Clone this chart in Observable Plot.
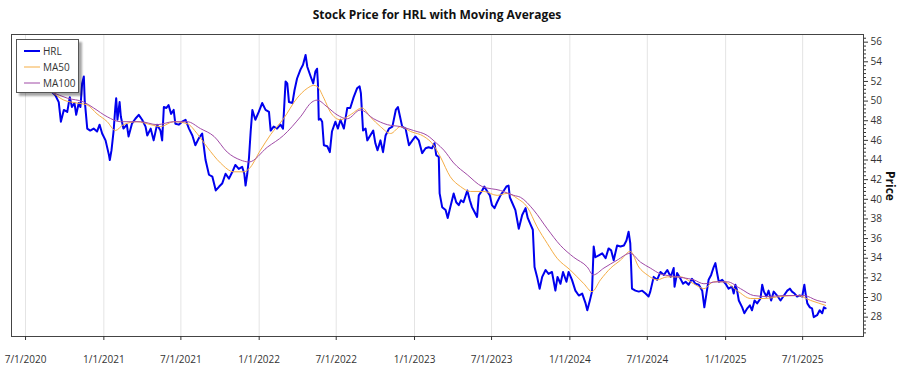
<!DOCTYPE html>
<html>
<head>
<meta charset="utf-8">
<script src="https://cdn.jsdelivr.net/npm/d3@7"></script>
<script src="https://cdn.jsdelivr.net/npm/@observablehq/plot@0.6"></script>
<style>
  body { margin: 0; background: #fff; font-family: "Segoe UI", "Open Sans", "Noto Sans", sans-serif; }
  #wrap { position: relative; width: 900px; height: 375px; }
  #title { margin-left: 11px; width: 852px; height: 28px; line-height: 30px; text-align: center; font-weight: bold; font-size: 12px; color: #111; }
  #legend { position: absolute; left: 16px; top: 39px; width: 61px; height: 52px; border: 1px solid #555; background: #fff; box-shadow: 3px 3px 2px rgba(0,0,0,0.35); font-size: 10px; color: #333; }
  .item { position: absolute; left: 7px; height: 12px; line-height: 12px; }
  .item svg { vertical-align: middle; }
  .item span { margin-left: 3px; vertical-align: middle; }
  #ylab { position: absolute; left: 885px; top: 171px; font-weight: bold; font-size: 12px; color: #111; transform-origin: 0 0; transform: rotate(90deg) translate(0, -14px); white-space: nowrap; }
</style>
</head>
<body>
<div id="wrap">
  <div id="title">Stock Price for HRL with Moving Averages</div>
  <div id="chart"></div>
  <div id="legend"></div>
  <div id="ylab">Price</div>
</div>
<script>
// ---- Data ----
const hrlDates = ["2020-09-02","2020-09-09","2020-09-17","2020-09-22","2020-09-29","2020-10-07","2020-10-13","2020-10-18","2020-10-24","2020-10-28","2020-11-03","2020-11-07","2020-11-11","2020-11-15","2020-11-17","2020-11-23","2020-11-30","2020-12-08","2020-12-16","2020-12-22","2020-12-28",
"2021-01-05","2021-01-13","2021-01-15","2021-01-19","2021-01-24","2021-01-28","2021-01-30","2021-02-02","2021-02-07","2021-02-10","2021-02-16","2021-02-24","2021-02-28","2021-03-08","2021-03-16","2021-03-24","2021-04-01","2021-04-09","2021-04-13","2021-04-21","2021-04-28","2021-05-06","2021-05-14","2021-05-18","2021-05-22","2021-05-28","2021-06-02","2021-06-08","2021-06-14","2021-06-18","2021-06-26","2021-07-04","2021-07-12","2021-07-20","2021-07-28","2021-08-04","2021-08-12","2021-08-20","2021-08-28","2021-09-05","2021-09-13","2021-09-21","2021-09-29","2021-10-06","2021-10-14","2021-10-22","2021-10-30","2021-11-06","2021-11-14","2021-11-22","2021-11-27","2021-11-30","2021-12-04","2021-12-08","2021-12-12","2021-12-16","2021-12-23","2021-12-31",
"2022-01-08","2022-01-16","2022-01-24","2022-01-28","2022-02-04","2022-02-12","2022-02-20","2022-02-26","2022-03-04","2022-03-08","2022-03-12","2022-03-20","2022-03-25","2022-03-31","2022-04-08","2022-04-14","2022-04-20","2022-04-24","2022-05-02","2022-05-08","2022-05-13","2022-05-17","2022-05-19","2022-05-21","2022-05-25","2022-05-29","2022-06-02","2022-06-10","2022-06-16","2022-06-21","2022-06-29","2022-07-05","2022-07-11","2022-07-19","2022-07-27","2022-08-03","2022-08-11","2022-08-19","2022-08-25","2022-08-28","2022-09-02","2022-09-08","2022-09-12","2022-09-19","2022-09-26","2022-10-01","2022-10-06","2022-10-13","2022-10-19","2022-10-25","2022-11-02","2022-11-10","2022-11-18","2022-11-23","2022-11-28","2022-12-03","2022-12-11","2022-12-19","2022-12-27",
"2023-01-03","2023-01-11","2023-01-19","2023-01-27","2023-02-03","2023-02-11","2023-02-17","2023-02-21","2023-02-27","2023-03-01","2023-03-07","2023-03-15","2023-03-20","2023-03-26","2023-04-03","2023-04-09","2023-04-15","2023-04-20","2023-04-26","2023-05-05","2023-05-11","2023-05-16","2023-05-22","2023-05-28","2023-06-01","2023-06-09","2023-06-14","2023-06-21","2023-06-27","2023-07-02","2023-07-08","2023-07-14","2023-07-22","2023-07-30","2023-08-05","2023-08-10","2023-08-13","2023-08-18","2023-08-26","2023-09-03","2023-09-11","2023-09-19","2023-09-24","2023-09-30","2023-10-06","2023-10-10","2023-10-16","2023-10-22","2023-10-28","2023-11-05","2023-11-12","2023-11-20","2023-11-28","2023-12-03","2023-12-10","2023-12-16","2023-12-24","2023-12-29",
"2024-01-06","2024-01-14","2024-01-22","2024-01-30","2024-02-07","2024-02-11","2024-02-17","2024-02-22","2024-02-26","2024-03-01","2024-03-09","2024-03-17","2024-03-25","2024-04-01","2024-04-07","2024-04-13","2024-04-21","2024-04-29","2024-05-07","2024-05-13","2024-05-18","2024-05-22","2024-05-26","2024-06-03","2024-06-11","2024-06-19","2024-06-27","2024-07-04","2024-07-08","2024-07-16","2024-07-24","2024-08-01","2024-08-09","2024-08-17","2024-08-25","2024-09-01","2024-09-03","2024-09-09","2024-09-17","2024-09-23","2024-09-29","2024-10-06","2024-10-14","2024-10-22","2024-10-30","2024-11-07","2024-11-12","2024-11-17","2024-11-22","2024-11-28","2024-12-04","2024-12-08","2024-12-12","2024-12-16","2024-12-24",
"2025-01-01","2025-01-08","2025-01-16","2025-01-20","2025-01-24","2025-01-28","2025-02-01","2025-02-09","2025-02-14","2025-02-21","2025-02-27","2025-03-04","2025-03-10","2025-03-16","2025-03-24","2025-03-28","2025-04-01","2025-04-07","2025-04-12","2025-04-18","2025-04-24","2025-05-02","2025-05-10","2025-05-18","2025-05-26","2025-06-01","2025-06-06","2025-06-12","2025-06-18","2025-06-24","2025-06-30","2025-07-05","2025-07-08","2025-07-12","2025-07-18","2025-07-23","2025-07-27","2025-08-04","2025-08-10","2025-08-16","2025-08-20","2025-08-24"];
const hrlPrices = [50.9,50.6,49.9,47.9,49.1,48.9,50.4,49.4,49.8,48.6,49.8,49.4,51.8,52.5,50.1,47.2,47.0,47.2,46.9,47.6,46.7,
46.0,44.5,44.0,45.0,47.0,49.4,50.3,48.1,49.9,48.4,47.2,47.6,46.4,47.7,48.2,48.6,48.1,47.4,46.5,47.2,46.0,47.6,47.0,46.0,49.4,49.3,49.6,48.7,49.1,47.7,47.6,47.9,48.1,47.2,46.5,45.5,46.2,46.7,44.0,42.5,42.3,40.9,41.3,41.6,42.6,42.1,42.8,43.5,43.1,43.3,42.6,41.4,42.6,44.2,46.9,49.1,48.1,48.9,
49.8,49.1,48.9,47.0,47.4,47.2,47.6,47.2,52.0,51.8,49.9,49.8,51.1,52.3,53.2,53.7,54.7,53.5,52.5,51.8,53.0,53.3,51.8,48.1,48.2,47.9,45.5,45.4,44.8,46.9,47.9,47.2,48.1,47.2,49.3,49.3,50.4,51.3,51.5,50.8,47.0,47.2,46.0,46.5,47.0,45.7,45.0,46.0,44.8,46.5,47.2,47.4,49.1,49.4,48.4,47.4,47.2,45.5,46.0,
46.4,46.0,44.7,45.2,45.3,45.2,45.7,44.5,44.3,40.6,39.2,38.9,38.1,39.2,40.6,39.7,39.4,39.9,39.7,40.9,39.9,39.2,38.7,38.2,40.4,40.9,41.3,40.8,40.4,39.4,39.1,39.7,40.4,40.9,41.3,41.4,40.2,39.7,38.9,37.0,38.4,39.1,38.1,37.5,36.9,33.1,32.1,30.9,32.1,32.8,32.4,32.6,30.7,32.1,31.4,32.6,31.6,32.6,
31.8,30.7,30.2,30.4,29.4,28.7,29.7,30.6,35.2,34.1,34.3,34.5,34.0,35.0,34.8,33.8,35.3,35.2,35.3,35.8,36.7,35.5,30.9,30.7,30.6,30.7,30.4,30.1,30.6,32.1,31.8,32.6,32.3,32.8,32.1,33.0,31.1,32.5,31.9,31.4,31.6,31.3,31.9,31.4,31.3,30.7,29.0,30.4,31.8,32.3,33.1,33.5,32.5,31.6,31.8,
31.4,30.9,31.1,30.4,31.3,30.7,29.7,29.0,28.4,28.9,29.2,28.7,29.7,29.4,29.9,31.3,30.6,30.1,30.7,29.7,30.6,30.2,29.7,30.2,30.7,30.9,30.6,30.4,30.1,30.2,30.1,31.3,30.4,29.4,29.0,28.9,28.0,28.2,28.7,28.4,29.0,28.9];

const ma50Dates = ["2020-09-02","2020-09-29","2020-10-30","2020-11-23","2020-12-16","2021-01-09","2021-01-28","2021-02-16","2021-03-20","2021-04-21","2021-05-14","2021-06-14","2021-07-16","2021-08-08","2021-09-01","2021-10-02","2021-11-02","2021-11-26","2021-12-08","2022-01-04","2022-01-28","2022-02-27","2022-03-31","2022-04-24","2022-05-09","2022-05-17","2022-06-02","2022-06-17","2022-07-11","2022-08-03","2022-08-31","2022-09-19","2022-10-13","2022-11-06","2022-11-29","2022-12-23","2023-01-23","2023-02-15","2023-03-03","2023-03-26","2023-04-19","2023-05-12","2023-06-13","2023-07-14","2023-08-07","2023-08-30","2023-09-23","2023-10-16","2023-11-09","2023-12-02","2024-01-02","2024-02-03","2024-02-22","2024-03-13","2024-04-06","2024-04-29","2024-05-22","2024-06-11","2024-07-01","2024-07-24","2024-08-17","2024-09-17","2024-10-18","2024-11-11","2024-12-04","2024-12-28","2025-01-28","2025-03-01","2025-04-01","2025-05-10","2025-06-18","2025-07-20","2025-08-24"];
const ma50Values = [50.9,50.1,49.8,49.6,48.7,47.9,47.0,47.6,47.9,47.6,47.4,47.9,47.7,46.7,45.3,43.7,42.8,42.8,43.1,45.0,46.6,48.2,50.3,51.3,51.6,51.5,50.3,48.9,48.1,48.6,49.3,48.4,47.4,46.7,47.4,46.9,46.4,45.5,44.3,42.3,41.3,40.8,40.8,40.4,40.6,40.1,39.2,37.2,35.5,34.0,32.8,31.4,30.6,31.8,33.0,33.8,34.7,33.1,32.3,31.8,32.1,32.1,31.4,30.9,31.6,31.6,30.7,29.9,29.9,30.1,30.2,29.7,29.2];

const ma100Dates = ["2020-09-02","2020-10-07","2020-11-15","2020-12-08","2021-01-09","2021-02-09","2021-03-28","2021-05-06","2021-06-14","2021-07-16","2021-08-16","2021-09-17","2021-10-18","2021-11-18","2021-12-08","2022-01-20","2022-02-27","2022-04-08","2022-05-05","2022-05-17","2022-06-10","2022-07-03","2022-07-27","2022-08-27","2022-09-27","2022-10-29","2022-11-29","2022-12-30","2023-01-31","2023-02-22","2023-03-11","2023-04-03","2023-05-05","2023-06-09","2023-07-22","2023-08-22","2023-09-07","2023-10-08","2023-11-09","2023-12-10","2024-01-10","2024-02-11","2024-02-25","2024-03-21","2024-04-21","2024-05-22","2024-06-15","2024-07-08","2024-08-01","2024-08-25","2024-09-25","2024-10-18","2024-11-11","2024-12-12","2025-01-05","2025-02-05","2025-03-08","2025-04-09","2025-05-18","2025-07-04","2025-08-04","2025-08-24"];
const ma100Values = [50.9,50.3,49.9,49.3,48.4,47.9,47.9,47.6,47.9,47.9,47.2,46.4,44.8,44.0,43.8,45.3,46.5,48.4,49.9,50.1,49.4,48.6,48.2,49.1,48.2,47.6,47.4,47.0,46.5,45.7,45.0,43.7,42.5,41.3,40.9,40.4,40.2,38.9,37.0,35.3,34.1,33.1,32.3,33.0,33.8,34.5,33.6,33.0,32.4,32.2,32.0,31.8,31.4,31.6,31.6,30.9,30.2,30.1,30.2,30.2,29.7,29.5];

const xTickDates = ["2020-07-01","2021-01-01","2021-07-01","2022-01-01","2022-07-01","2023-01-01","2023-07-01","2024-01-01","2024-07-01","2025-01-01","2025-07-01"];
const yTicks = [28,30,32,34,36,38,40,42,44,46,48,50,52,54,56];
const seriesNames = ["HRL","MA50","MA100"];
const seriesColors = ["#0000ee","#f5ad45","#a04aa6"];

// ---- Build ----
const parse = d3.utcParse("%Y-%m-%d");
const toRows = (ds, vs) => ds.map((d, i) => ({date: parse(d), value: vs[i]}));
const hrl = toRows(hrlDates, hrlPrices);
const ma50 = toRows(ma50Dates, ma50Values);
const ma100 = toRows(ma100Dates, ma100Values);
const xTicks = xTickDates.map(parse);
const fmt = d => `${d.getUTCMonth() + 1}/${d.getUTCDate()}/${d.getUTCFullYear()}`;
const minorY = d3.range(26.4, 56.8, 0.4).map(v => +v.toFixed(1)).filter(v => !yTicks.includes(v));

const chart = Plot.plot({
  width: 900,
  height: 347,
  marginTop: 6,
  marginBottom: 39,
  marginLeft: 11,
  marginRight: 37,
  style: {fontFamily: "'Segoe UI', 'Open Sans', 'Noto Sans', sans-serif", fontSize: "10px", color: "#333", background: "#fff"},
  x: {type: "utc", domain: [parse("2020-05-29"), parse("2025-11-21")]},
  y: {domain: [26.03, 56.78]},
  marks: [
    Plot.ruleX(xTicks, {stroke: "#e4e4e4", strokeWidth: 1}),
    Plot.line(hrl, {x: "date", y: "value", stroke: seriesColors[0], strokeWidth: 2}),
    Plot.line(ma50, {x: "date", y: "value", stroke: seriesColors[1], strokeWidth: 1, curve: "monotone-x"}),
    Plot.line(ma100, {x: "date", y: "value", stroke: seriesColors[2], strokeWidth: 1, curve: "monotone-x"}),
    Plot.frame({stroke: "#444", strokeWidth: 1}),
    Plot.axisX({ticks: xTicks, tickFormat: fmt, tickSize: 4, tickPadding: 15, label: null, stroke: "#333"}),
    Plot.axisY({anchor: "right", ticks: yTicks, tickSize: 4, tickPadding: 3, label: null, stroke: "#333"}),
    Plot.axisY({anchor: "right", ticks: minorY, tickSize: 2, tickFormat: () => "", label: null, stroke: "#333"})
  ]
});
document.getElementById("chart").appendChild(chart);

// legend
const legend = document.getElementById("legend");
seriesNames.forEach((name, i) => {
  const div = document.createElement("div");
  div.className = "item";
  div.style.top = (4 + i * 16) + "px";
  div.innerHTML = `<svg width="16" height="4"><line x1="0" x2="16" y1="2" y2="2" stroke="${seriesColors[i]}" stroke-width="${i === 0 ? 2 : 1}"/></svg><span>${name}</span>`;
  legend.appendChild(div);
});
</script>
</body>
</html>
